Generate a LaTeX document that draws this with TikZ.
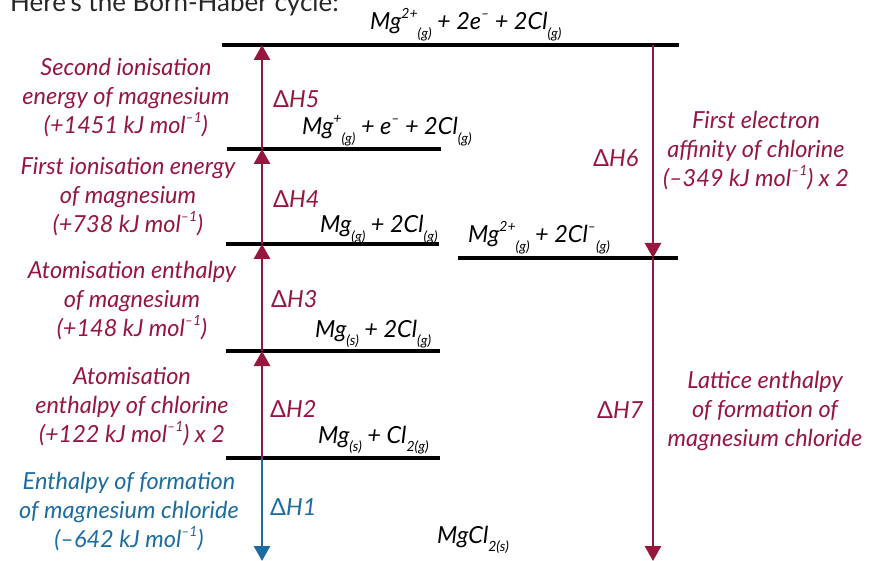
\documentclass[tikz,border=0pt]{standalone}
\usepackage{fontspec}
\setmainfont{Lato}
\usetikzlibrary{arrows.meta}
\definecolor{cyclered}{RGB}{150,22,62}
\definecolor{cycleblue}{RGB}{28,108,160}
\newcommand{\phase}[1]{\raisebox{-0.75ex}{\fontsize{14}{14}\selectfont #1}}
\newcommand{\charge}[1]{\raisebox{0.95ex}{\fontsize{14}{14}\selectfont #1}}

\begin{document}
\begin{tikzpicture}[x=1pt,y=-1pt,
  level/.style={line width=3.8pt},
  change/.style={cyclered,line width=2.8pt,-{Triangle[length=15pt,width=16pt]}},
  desc/.style={align=center,inner sep=0pt,text=cyclered,font=\fontsize{23.5}{29}\selectfont\itshape},
  dh/.style={anchor=base west,inner sep=0pt,text=cyclered,font=\fontsize{23.5}{28}\selectfont\itshape},
  species/.style={anchor=base west,inner sep=0pt,font=\fontsize{23.5}{28}\selectfont\itshape}
]
\useasboundingbox (0,0) rectangle (872,561);

% title (cut off at the top)
\node[anchor=base west,inner sep=0pt,text=black!85,font=\fontsize{26}{30}\selectfont] (title) at (10,12) {Here's the Born-Haber cycle:};

% energy levels
\coordinate (topL) at (222,45);   \coordinate (topR) at (679,45);
\coordinate (ionL) at (227,149);  \coordinate (ionR) at (441,149);
\coordinate (gasL) at (226,244);  \coordinate (gasR) at (439,244);
\coordinate (aniL) at (458,258);  \coordinate (aniR) at (678,258);
\coordinate (clgL) at (226,351);  \coordinate (clgR) at (440,351);
\coordinate (eleL) at (226,458);  \coordinate (eleR) at (440,458);
\draw[level] (topL) -- (topR);
\draw[level] (ionL) -- (ionR);
\draw[level] (gasL) -- (gasR);
\draw[level] (aniL) -- (aniR);
\draw[level] (clgL) -- (clgR);
\draw[level] (eleL) -- (eleR);

% arrow ends
\coordinate (h5) at (262,45);
\coordinate (h4) at (262,149);
\coordinate (h3) at (262,244);
\coordinate (h2) at (262,351);
\coordinate (h1) at (262,458);
\coordinate (h0) at (262,561);
\coordinate (r6) at (653,45);
\coordinate (r7) at (653,258);
\coordinate (r0) at (653,561);

\draw[change,cycleblue] (h1) -- (h0);
\draw[change] (h1) -- (h2);
\draw[change] (h2) -- (h3);
\draw[change] (h3) -- (h4);
\draw[change] (h4) -- (h5);
\draw[change] (r6) -- (r7);
\draw[change] (r7) -- (r0);

% species
\node[species] (sTop) at (370,30) {Mg\charge{2+}\phase{(g)} + 2e\charge{–} + 2Cl\phase{(g)}};
\node[species] (sIon) at (302,135) {Mg\charge{+}\phase{(g)} + e\charge{–} + 2Cl\phase{(g)}};
\node[species] (sGas) at (320,233) {Mg\phase{(g)} + 2Cl\phase{(g)}};
\node[species] (sAni) at (468,243) {Mg\charge{2+}\phase{(g)} + 2Cl\charge{–}\phase{(g)}};
\node[species] (sClg) at (315,337) {Mg\phase{(s)} + 2Cl\phase{(g)}};
\node[species] (sEle) at (318,443) {Mg\phase{(s)} + Cl\phase{2(g)}};
\node[species] (sSal) at (437,543) {MgCl\phase{2(s)}};

% enthalpy labels
\node[dh] (d5) at (273,108) {{\upshape Δ}H5};
\node[dh] (d4) at (273,208) {{\upshape Δ}H4};
\node[dh] (d3) at (271,307) {{\upshape Δ}H3};
\node[dh] (d2) at (270,417) {{\upshape Δ}H2};
\node[dh,text=cycleblue] (d1) at (270,515) {{\upshape Δ}H1};
\node[dh] (d6) at (593,167) {{\upshape Δ}H6};
\node[dh] (d7) at (597,418) {{\upshape Δ}H7};

% descriptions
\node[desc] (t5) at (126,98) {Second ionisation\\energy of magnesium\\(+1451 kJ mol\charge{–1})};
\node[desc] (t4) at (128,197) {First ionisation energy\\of magnesium\\(+738 kJ mol\charge{–1})};
\node[desc] (t3) at (132,301) {Atomisation enthalpy\\of magnesium\\(+148 kJ mol\charge{–1})};
\node[desc] (t2) at (132,407) {Atomisation\\enthalpy of chlorine\\(+122 kJ mol\charge{–1}) x 2};
\node[desc,text=cycleblue] (t1) at (129,512) {Enthalpy of formation\\of magnesium chloride\\(–642 kJ mol\charge{–1})};
\node[desc] (t6) at (756,151) {First electron\\affinity of chlorine\\(–349 kJ mol\charge{–1}) x 2};
\node[desc] (t7) at (765,411) {Lattice enthalpy\\of formation of\\magnesium chloride};
\end{tikzpicture}
\end{document}
